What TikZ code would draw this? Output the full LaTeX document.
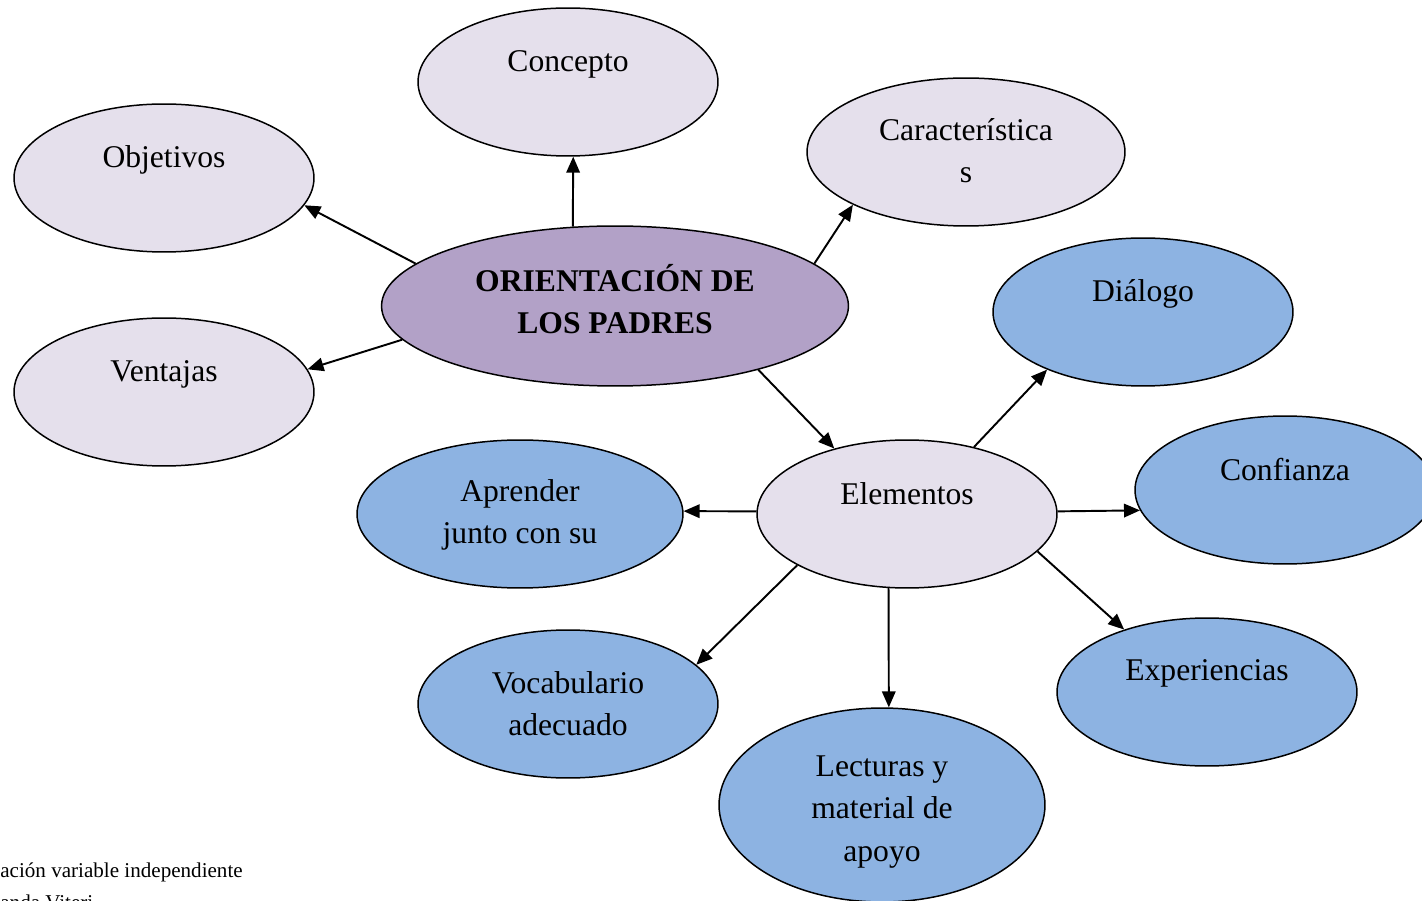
\documentclass[tikz,border=0pt]{standalone}
\usepackage{fontspec}
\setmainfont{Liberation Serif}
\usepackage{xcolor}
\usepackage{tikz}
\usetikzlibrary{arrows.meta}
\usetikzlibrary{shapes.geometric}

\definecolor{lila}{HTML}{E5E0EC}
\definecolor{morado}{HTML}{B2A1C7}
\definecolor{celeste}{HTML}{8DB3E2}

\begin{document}
\begin{tikzpicture}[x=0.02cm, y=-0.02cm,
    ovalo/.style={ellipse, draw, line width=0.85pt, minimum width=6cm, minimum height=2.96cm, inner sep=0pt},
    txt/.style={align=center, font=\fontsize{18}{24}\selectfont},
    flecha/.style={line width=1.1pt, -{Triangle[length=0.32cm,width=0.27cm]}},
    nota/.style={inner sep=0pt, font=\fontsize{12}{14}\selectfont}]
                \useasboundingbox (0,0) rectangle (1422,901);
                % central node
                \node[ovalo, fill=morado, minimum width=9.34cm, minimum height=3.2cm] (cen) at (615,306) {};
                \node[txt, font=\fontsize{18}{24}\selectfont\bfseries] (cen-t) at (615,299) {ORIENTACIÓN DE\\LOS PADRES};
                % light ovals
                \node[ovalo, fill=lila] (concepto) at (568,82) {};
                \node[txt] (concepto-t) at (568,64) {Concepto};
                \node[ovalo, fill=lila] (objetivos) at (164,178) {};
                \node[txt] (objetivos-t) at (164,160) {Objetivos};
                \node[ovalo, fill=lila, minimum width=6.36cm] (caract) at (966,152) {};
                \node[txt] (caract-t) at (966,151) {Característica\\s};
                \node[ovalo, fill=lila] (ventajas) at (164,392) {};
                \node[txt] (ventajas-t) at (164,374) {Ventajas};
                \node[ovalo, fill=lila] (elementos) at (907,514) {};
                \node[txt] (elementos-t) at (907,494) {Elementos};
                % blue ovals
                \node[ovalo, fill=celeste] (dialogo) at (1143,312) {};
                \node[txt] (dialogo-t) at (1143,294) {Diálogo};
                \node[ovalo, fill=celeste] (confianza) at (1285,490) {};
                \node[txt] (confianza-t) at (1285,470) {Confianza};
                \node[ovalo, fill=celeste, minimum width=6.52cm] (aprender) at (520,514) {};
                \node[txt] (aprender-t) at (520,515) {Aprender\\junto con su};
                \node[ovalo, fill=celeste] (vocab) at (568,704) {};
                \node[txt] (vocab-t) at (568,704) {Vocabulario\\adecuado};
                \node[ovalo, fill=celeste, minimum width=6.52cm, minimum height=3.88cm] (lecturas) at (882,805) {};
                \node[txt] (lecturas-t) at (882,812) {Lecturas y\\material de\\apoyo};
                \node[ovalo, fill=celeste] (experiencias) at (1207,692) {};
                \node[txt] (experiencias-t) at (1207,673) {Experiencias};
                % arrows
                \foreach \a/\b in {cen.118/concepto.274, cen.168/objetivos.349, cen.189/ventajas.9,
                                   cen.12/caract.205, cen.336/elementos.138,
                                   elementos.45/dialogo.211, elementos.1/confianza.188,
                                   elementos.179/aprender.1, elementos.205/vocab.17,
                                   elementos.256/lecturas.86, elementos.344/experiencias.143} {
                    \draw[flecha] (\a) -- (\b);
                }
                % note at the bottom
                \node[nota, anchor=base west] (fuente) at (0,877) {ación variable independiente};
                \node[nota, anchor=base west] (autor) at (0,909) {anda Viteri};
            \end{tikzpicture}
\end{document}
